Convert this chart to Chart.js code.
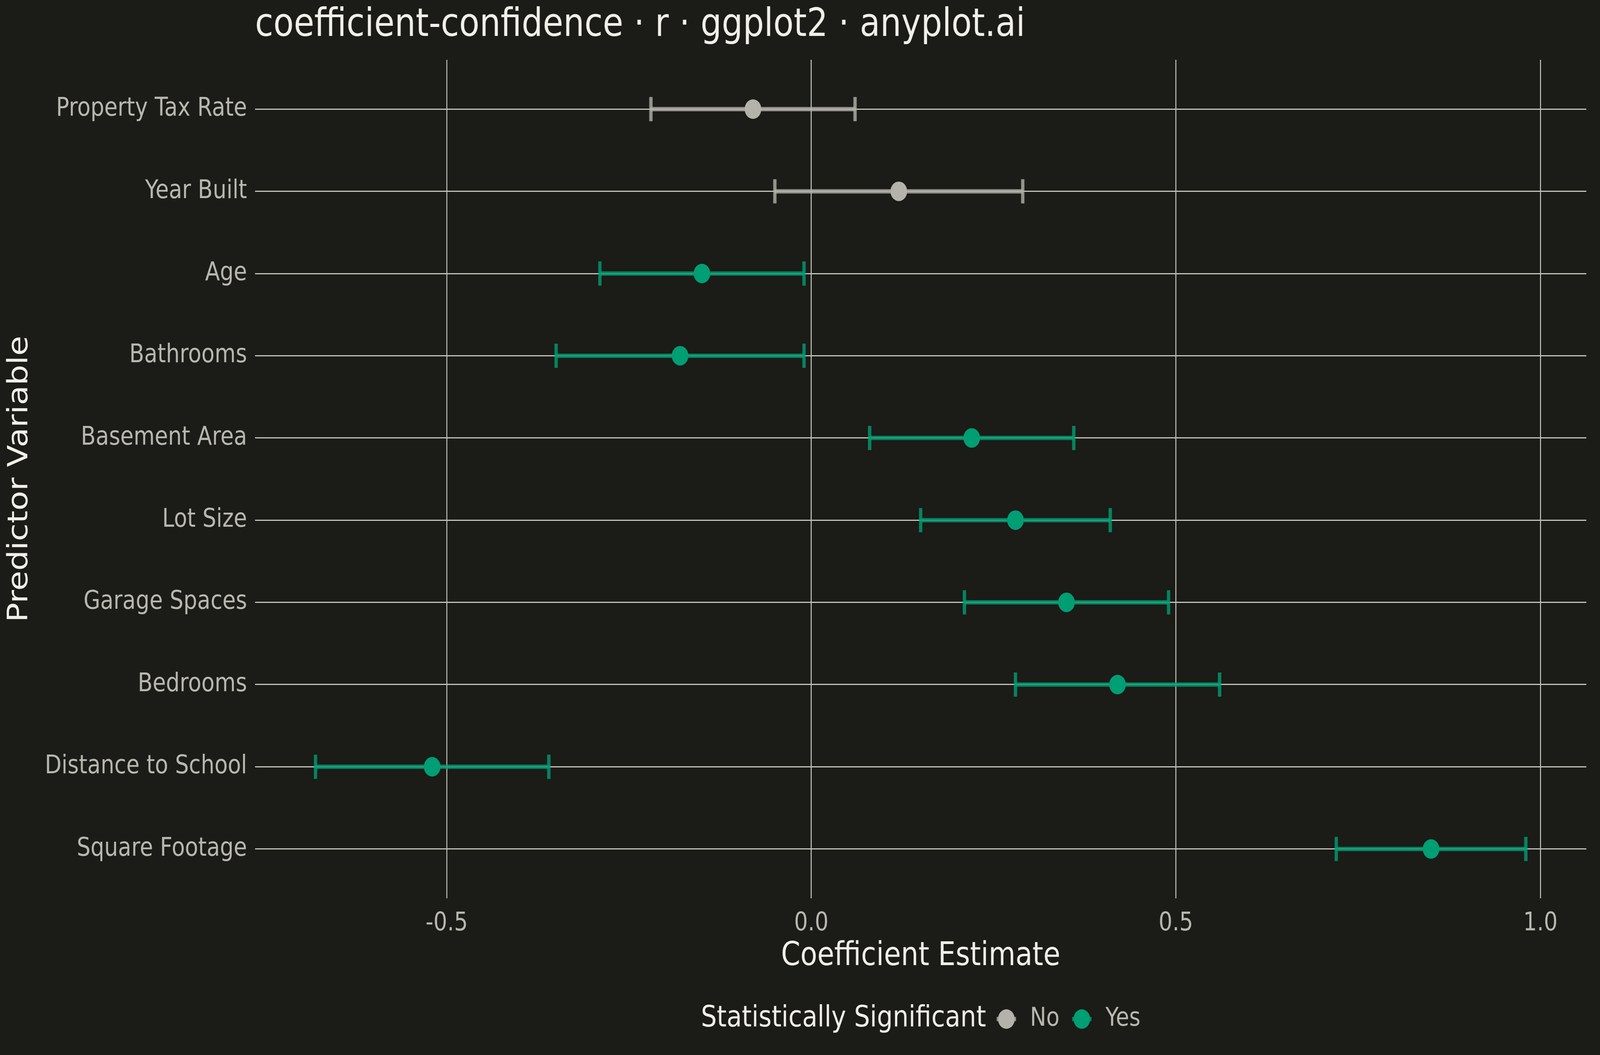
<!DOCTYPE html>
<html>
<head>
<meta charset="utf-8">
<script src="https://cdn.jsdelivr.net/npm/chart.js@4.4.1/dist/chart.umd.min.js"></script>
<style>
  html, body { margin: 0; padding: 0; background: #1b1b17; overflow: hidden; }
  #wrap { width: 4800px; height: 2700px; transform-origin: 0 0; }
  #coefChart { display: block; }
</style>
</head>
<body>
<div id="wrap"><canvas id="coefChart" width="4800" height="2700"></canvas></div>
<script>
// data, top row first
const predictors = ['Property Tax Rate', 'Year Built', 'Age', 'Bathrooms', 'Basement Area',
    'Lot Size', 'Garage Spaces', 'Bedrooms', 'Distance to School', 'Square Footage'];
const estimates = [-0.08, 0.12, -0.15, -0.18, 0.22, 0.28, 0.35, 0.42, -0.52, 0.85];
const ciLower = [-0.22, -0.05, -0.29, -0.35, 0.08, 0.15, 0.21, 0.28, -0.68, 0.72];
const ciUpper = [0.06, 0.29, -0.01, -0.01, 0.36, 0.41, 0.49, 0.56, -0.36, 0.98];
const significant = ['No', 'No', 'Yes', 'Yes', 'Yes', 'Yes', 'Yes', 'Yes', 'Yes', 'Yes'];
const groups = ['No', 'Yes'];
const xTicks = [-0.5, 0.0, 0.5, 1.0];

const pointColor = { No: '#b3b3ab', Yes: '#009e73' };
const barColor = { No: 'rgba(179, 179, 171, 0.8)', Yes: 'rgba(0, 158, 115, 0.8)' };
const textColor = '#f0efe8';
const tickColor = '#b8b8b0';
const gridColor = '#c4c4bc';

// the chart is laid out at 4800x2700; stretch it over whatever window we get
function fitToWindow() {
    const sx = window.innerWidth / 4800;
    const sy = window.innerHeight / 2700;
    document.getElementById('wrap').style.transform = 'scale(' + sx + ',' + sy + ')';
}
fitToWindow();
window.addEventListener('resize', fitToWindow);

Chart.defaults.font.family = '"DejaVu Sans", sans-serif';

const pointSets = groups.map(g => ({
    type: 'scatter',
    label: g,
    order: 0,
    data: predictors.map((p, i) => ({ x: estimates[i], y: i })).filter((d, i) => significant[i] === g),
    backgroundColor: pointColor[g],
    borderColor: pointColor[g],
    pointRadius: 25,
    pointHoverRadius: 25,
    pointBorderWidth: 0
}));

const barSets = predictors.map((p, i) => ({
    type: 'line',
    label: p,
    order: 1,
    data: [{ x: ciLower[i], y: i }, { x: ciUpper[i], y: i }],
    borderColor: barColor[significant[i]],
    borderWidth: 11,
    fill: false,
    pointStyle: 'line',
    pointRotation: 90,
    pointRadius: 31,
    pointHoverRadius: 31,
    pointBorderWidth: 10,
    pointBorderColor: barColor[significant[i]]
}));

// ggplot style legend: title inline, then the keys
const sigLegend = {
    id: 'sigLegend',
    afterDraw(chart) {
        const ctx = chart.ctx;
        const area = chart.chartArea;
        const y = chart.height - 92;
        const r = 25;
        ctx.save();
        ctx.textBaseline = 'middle';
        ctx.font = '75px "DejaVu Sans"';
        const titleW = ctx.measureText('Statistically Significant').width;
        ctx.font = '65px "DejaVu Sans"';
        const widths = groups.map(g => ctx.measureText(g).width);
        let total = titleW + 36;
        widths.forEach((w, i) => { total += 2 * r + 46 + w + (i > 0 ? 42 : 0); });
        let x = (area.left + area.right) / 2 - total / 2;

        ctx.font = '75px "DejaVu Sans"';
        ctx.fillStyle = textColor;
        ctx.textAlign = 'left';
        ctx.fillText('Statistically Significant', x, y);
        x += titleW + 36;

        ctx.font = '65px "DejaVu Sans"';
        groups.forEach((g, i) => {
            if (i > 0) x += 42;
            ctx.strokeStyle = barColor[g];
            ctx.lineWidth = 11;
            ctx.beginPath();
            ctx.moveTo(x - 4, y);
            ctx.lineTo(x + 2 * r + 4, y);
            ctx.stroke();
            ctx.fillStyle = pointColor[g];
            ctx.beginPath();
            ctx.arc(x + r, y, r, 0, Math.PI * 2);
            ctx.fill();
            x += 2 * r + 46;
            ctx.fillStyle = tickColor;
            ctx.fillText(g, x, y);
            x += widths[i];
        });
        ctx.restore();
    }
};

new Chart(document.getElementById('coefChart'), {
    type: 'scatter',
    data: { datasets: pointSets.concat(barSets) },
    plugins: [sigLegend],
    options: {
        responsive: false,
        devicePixelRatio: 1,
        animation: false,
        events: [],
        layout: { padding: { top: 0, left: 0, right: 31, bottom: 210 } },
        plugins: {
            legend: { display: false },
            tooltip: { enabled: false },
            title: {
                display: true,
                text: 'coefficient-confidence · r · ggplot2 · anyplot.ai',
                align: 'start',
                fullSize: false,
                color: textColor,
                font: { size: 100, weight: 'normal' },
                padding: { top: 6, bottom: 27 }
            }
        },
        scales: {
            x: {
                type: 'linear',
                min: -0.763,
                max: 1.063,
                afterBuildTicks: s => { s.ticks = xTicks.map(v => ({ value: v })); },
                afterFit: s => { s.height = 191; },
                ticks: {
                    color: tickColor,
                    font: { size: 65 },
                    padding: 26,
                    callback: v => v.toFixed(1)
                },
                grid: { color: gridColor, lineWidth: 3, drawTicks: false },
                border: { display: false },
                title: {
                    display: true,
                    text: 'Coefficient Estimate',
                    color: textColor,
                    font: { size: 83 },
                    padding: { top: 0, bottom: -8 }
                }
            },
            y: {
                type: 'linear',
                reverse: true,
                min: -0.6,
                max: predictors.length - 0.4,
                afterBuildTicks: s => { s.ticks = predictors.map((p, i) => ({ value: i })); },
                afterFit: s => { s.width = 765; },
                ticks: {
                    color: tickColor,
                    font: { size: 65 },
                    padding: 24,
                    callback: v => predictors[v]
                },
                grid: { color: gridColor, lineWidth: 3, drawTicks: false },
                border: { display: false },
                title: {
                    display: true,
                    text: 'Predictor Variable',
                    color: textColor,
                    font: { size: 83 },
                    padding: { top: 11, bottom: 0 }
                }
            }
        }
    }
});
</script>
</body>
</html>
